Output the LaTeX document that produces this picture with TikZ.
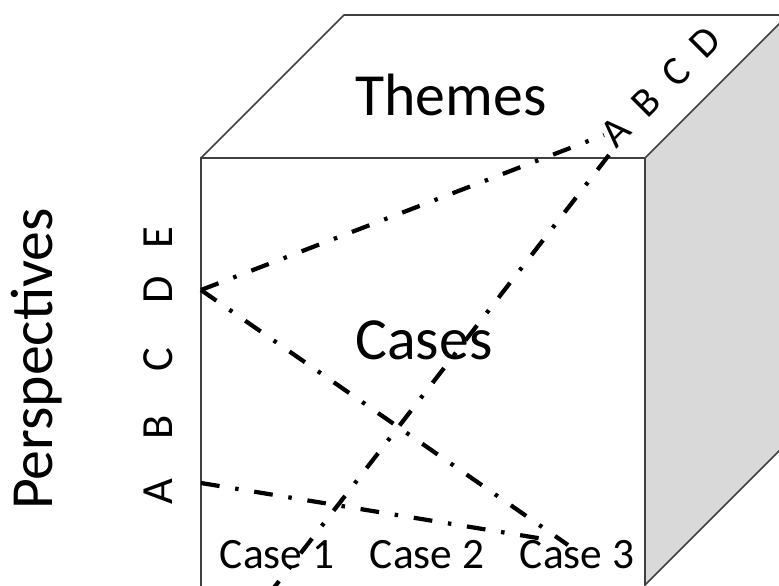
\documentclass[tikz,border=0pt]{standalone}
\usepackage{fontspec}
\setmainfont{Carlito}

\begin{document}
\begin{tikzpicture}[x=0.03cm, y=-0.03cm,
    edge/.style={draw=black!75, line width=1.3pt},
    link/.style={line width=3.6pt, dash pattern=on 16pt off 13.5pt on 3pt off 13.5pt},
    big/.style={font=\fontsize{51}{51}\selectfont},
    letter/.style={font=\fontsize{38}{38}\selectfont, inner sep=0pt},
    case/.style={font=\fontsize{37}{37}\selectfont}]

    \useasboundingbox (0,0) rectangle (779,586);
    \clip (0,0) rectangle (779,586);

    % cube
    \filldraw[edge, fill=black!15] (645,158) -- (788,15) -- (788,442) -- (645,585) -- cycle;
    \draw[edge] (201,158) -- (344,15) -- (788,15);
    \draw[edge] (201,600) -- (201,158) -- (645,158) -- (645,585);

    % labels
    \node[big] (themes) at (451,95) {Themes};
    \node[big] (cases) at (424,340) {Cases};
    \node[big, rotate=90, anchor=base] (persp) at (53,359) {Perspectives};

    \foreach \l/\y in {A/492,B/427,C/360,D/290,E/238}
        \node[letter, rotate=90] (p\l) at (158,\y) {\l};
    \node[letter, rotate=45, font=\fontsize{35}{35}\selectfont] (themeset) at (661,87)
        {A\hspace{16.5pt}B\hspace{17pt}C\hspace{16pt}D};

    \node[case] (case1) at (277,555) {Case 1};
    \node[case] (case2) at (427,555) {Case 2};
    \node[case] (case3) at (577,555) {Case 3};

    % links
    \coordinate (fD) at (201,290);
    \coordinate (fA) at (201,483);
    \coordinate (topA) at (604,135);
    \coordinate (topA2) at (609,155);
    \coordinate (end3) at (568,545);
    \coordinate (end3b) at (550,540);
    \coordinate (low) at (266,598);

    \draw[link] (fD) -- (topA);
    \draw[link] (fD) -- (end3);
    \draw[link] (fA) -- (end3b);
    \draw[link] (topA2) -- (low);
\end{tikzpicture}
\end{document}
